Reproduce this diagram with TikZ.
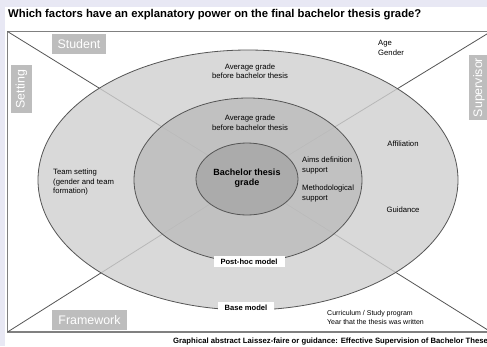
\documentclass[tikz,border=0pt]{standalone}
\usepackage{fontspec}
\setmainfont{Liberation Sans}
\usetikzlibrary{positioning, calc}
\definecolor{pagebg}{HTML}{E8E8F4}
\definecolor{ringout}{HTML}{D0D0D0}
\definecolor{ringmid}{HTML}{BCBCBC}
\definecolor{ringin}{HTML}{ABABAB}
\definecolor{tagfill}{HTML}{BDBDBD}
\definecolor{edgegray}{HTML}{555555}

\begin{document}
\begin{tikzpicture}[x=1pt, y=-1pt,
    ring/.style={draw=edgegray, line width=0.8pt},
    tag/.style={fill=tagfill, text=white, font=\fontsize{12.4}{12.4}\selectfont, inner sep=0pt},
    note/.style={font=\fontsize{7.7}{9.5}\selectfont, align=left, inner sep=0pt},
    modelbox/.style={fill=white, font=\bfseries\fontsize{7.6}{8}\selectfont, inner xsep=7pt, inner ysep=2.5pt}]
    \clip (0, 0) rectangle (487, 346);
    \fill[pagebg] (0, 0) rectangle (487, 346);
    \fill[white] (5, 7) rectangle (487, 346);

    \node[anchor=west, font=\bfseries\fontsize{11.3}{11.3}\selectfont, inner sep=0pt] (title) at (8, 15)
        {Which factors have an explanatory power on the final bachelor thesis grade?};

    % frame and the four sectors
    \coordinate (tl) at (7.5, 31.5);
    \coordinate (tr) at (491, 31.5);
    \coordinate (bl) at (7.5, 332);
    \coordinate (br) at (491, 332);
    \coordinate (mid) at (248, 180);
    \draw[gray, line width=1.2pt] (tl) rectangle (br);
    \draw[edgegray, line width=0.8pt] (tl) -- (mid);
    \draw[edgegray, line width=0.8pt] (tr) -- (mid);
    \draw[edgegray, line width=0.8pt] (bl) -- (mid);
    \draw[edgegray, line width=0.8pt] (br) -- (mid);

    % the three models
    \draw[ring, fill=ringout, fill opacity=0.8] (mid) ellipse [x radius=210, y radius=130];
    \draw[ring, fill=ringmid, fill opacity=0.8] (mid) ellipse [x radius=114, y radius=82];
    \draw[ring, fill=ringin] (247, 179) ellipse [x radius=51, y radius=36];

    \node[font=\bfseries\fontsize{9}{10}\selectfont, align=center, inner sep=0pt] (grade) at (247, 178) {Bachelor thesis\\grade};

    \node[note, align=center] (avgout) at (250, 71) {Average grade\\before bachelor thesis};
    \node[note, align=center] (avgmid) at (250, 122.5) {Average grade\\before bachelor thesis};
    \node[note, anchor=west] (team) at (53, 182.5) {Team setting\\(gender and team\\formation)};
    \node[note, anchor=west] (aims) at (302, 165.5) {Aims definition\\support};
    \node[note, anchor=west] (method) at (302, 193.5) {Methodological\\support};
    \node[note] (affil) at (403, 144) {Affiliation};
    \node[note] (guide) at (403, 210) {Guidance};
    \node[note, anchor=west] (age) at (378, 48) {Age\\Gender};
    \node[note, anchor=west, font=\fontsize{7}{9}\selectfont] (curric) at (327, 317.5) {Curriculum / Study program\\Year that the thesis was written};

    \node[modelbox] (posthoc) at (249, 261.5) {Post-hoc model};
    \node[modelbox] (base) at (246, 307.5) {Base model};

    \node[tag, minimum width=54, minimum height=20] (student) at (79, 44) {Student};
    \node[tag, minimum width=75, minimum height=20] (framework) at (89.5, 320) {Framework};
    \node[tag, rotate=90, minimum width=48, minimum height=21] (setting) at (21.5, 89) {Setting};
    \node[tag, rotate=90, minimum width=65, minimum height=21] (supervisor) at (479, 87.5) {Supervisor};

    \node[anchor=west, font=\bfseries\fontsize{7.7}{7.7}\selectfont, inner sep=0pt] (caption) at (173, 342)
        {Graphical abstract Laissez-faire or guidance: Effective Supervision of Bachelor Theses};
\end{tikzpicture}
\end{document}
